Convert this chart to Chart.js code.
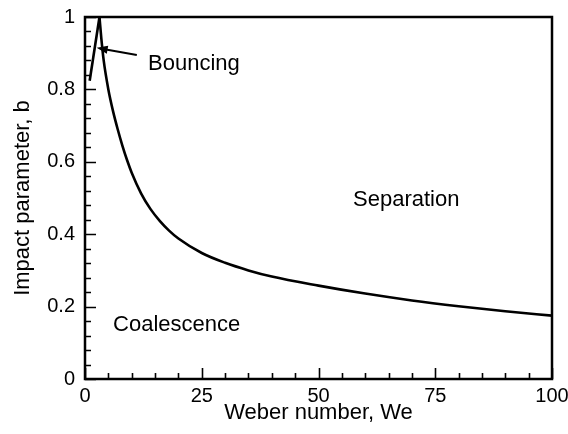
<!DOCTYPE html>
<html>
<head>
<meta charset="utf-8">
<script src="https://cdn.jsdelivr.net/npm/chart.js@4.4.0/dist/chart.umd.min.js"></script>
<style>
  html, body { margin: 0; padding: 0; background: #fff; }
  #wrap { width: 568px; height: 434px; position: relative; }
</style>
</head>
<body>
<div id="wrap"><canvas id="chart"></canvas></div>
<script>
// Boundary curve: short rise, then the long fall
const riseWe = [1.0, 3.1];
const riseB  = [0.824, 1.0];
const fallWe = [3.1, 3.5, 4, 5, 6, 7, 8, 9, 10, 12, 14, 16, 18, 20, 25, 30, 35, 40, 50, 60, 70, 80, 90, 100];
const fallB  = [1.0, 0.94, 0.88, 0.80, 0.74, 0.69, 0.645, 0.605, 0.57, 0.513, 0.47, 0.437, 0.41, 0.388, 0.348, 0.321, 0.30, 0.283, 0.258, 0.236, 0.217, 0.201, 0.187, 0.175];

const xTicks = [0, 25, 50, 75, 100];
const yTicks = [0, 0.2, 0.4, 0.6, 0.8, 1];
const xMinorStep = 5;
const yMinorStep = 0.04;

const regionNames = ['Bouncing', 'Separation', 'Coalescence'];
const regionAt = [[13.5, 0.87], [57.4, 0.494], [6.0, 0.149]];
const arrowFrom = [11.1, 0.895];
const arrowTo = [2.5, 0.915];

const FONT = "'Liberation Sans', Arial, sans-serif";

const axisPlugin = {
  id: 'axisFrame',
  afterDatasetsDraw(chart) {
    const { ctx, chartArea: a, scales: { x, y } } = chart;
    ctx.save();
    ctx.strokeStyle = '#000';
    ctx.lineWidth = 1.6;
    ctx.beginPath();
    for (let i = 0; i * xMinorStep <= 100 + 1e-9; i++) {
      const v = i * xMinorStep;
      const px = Math.round(x.getPixelForValue(v)) + 0.5;
      const len = xTicks.includes(v) ? 11 : 6;
      ctx.moveTo(px, a.bottom);
      ctx.lineTo(px, a.bottom - len);
    }
    for (let i = 0; i * yMinorStep <= 1 + 1e-9; i++) {
      const v = +(i * yMinorStep).toFixed(2);
      const py = Math.round(y.getPixelForValue(v)) + 0.5;
      const len = yTicks.some(t => Math.abs(t - v) < 1e-6) ? 11 : 6;
      ctx.moveTo(a.left, py);
      ctx.lineTo(a.left + len, py);
    }
    ctx.stroke();

    ctx.lineWidth = 2.5;
    ctx.strokeRect(a.left, a.top, a.right - a.left, a.bottom - a.top);

    // region labels
    ctx.fillStyle = '#000';
    ctx.font = '22px ' + FONT;
    ctx.textAlign = 'left';
    ctx.textBaseline = 'middle';
    regionNames.forEach((name, i) => {
      ctx.fillText(name, x.getPixelForValue(regionAt[i][0]), y.getPixelForValue(regionAt[i][1]));
    });

    // arrow to the bouncing region
    const x0 = x.getPixelForValue(arrowFrom[0]), y0 = y.getPixelForValue(arrowFrom[1]);
    const x1 = x.getPixelForValue(arrowTo[0]), y1 = y.getPixelForValue(arrowTo[1]);
    const ang = Math.atan2(y1 - y0, x1 - x0);
    ctx.lineWidth = 2;
    ctx.beginPath();
    ctx.moveTo(x0, y0);
    ctx.lineTo(x1 - 8 * Math.cos(ang), y1 - 8 * Math.sin(ang));
    ctx.stroke();
    ctx.beginPath();
    ctx.moveTo(x1, y1);
    ctx.lineTo(x1 - 11 * Math.cos(ang) + 4 * Math.sin(ang), y1 - 11 * Math.sin(ang) - 4 * Math.cos(ang));
    ctx.lineTo(x1 - 11 * Math.cos(ang) - 4 * Math.sin(ang), y1 - 11 * Math.sin(ang) + 4 * Math.cos(ang));
    ctx.closePath();
    ctx.fill();
    ctx.restore();
  }
};

const curveStyle = { borderColor: '#000', borderWidth: 2.6, pointRadius: 0, fill: false };

new Chart(document.getElementById('chart'), {
  type: 'line',
  plugins: [axisPlugin],
  data: {
    datasets: [
      { ...curveStyle, tension: 0, data: riseWe.map((w, i) => ({ x: w, y: riseB[i] })) },
      { ...curveStyle, cubicInterpolationMode: 'monotone', data: fallWe.map((w, i) => ({ x: w, y: fallB[i] })) }
    ]
  },
  options: {
    responsive: true,
    maintainAspectRatio: false,
    animation: false,
    layout: { padding: { top: 17, right: 16, left: 0, bottom: 0 } },
    plugins: { legend: { display: false }, tooltip: { enabled: false } },
    scales: {
      x: {
        type: 'linear', min: 0, max: 100,
        afterBuildTicks: s => { s.ticks = xTicks.map(v => ({ value: v })); },
        afterFit: s => { s.height = 55; s.paddingLeft = 0; s.paddingRight = 0; },
        grid: { display: false, drawTicks: false },
        border: { display: false },
        ticks: { color: '#000', font: { family: FONT, size: 20 }, padding: 5, maxRotation: 0, callback: v => String(v) },
        title: { display: true, text: 'Weber number, We', color: '#000', font: { family: FONT, size: 22 }, padding: { top: 0, bottom: 8 } }
      },
      y: {
        type: 'linear', min: 0, max: 1,
        afterBuildTicks: s => { s.ticks = yTicks.map(v => ({ value: v })); },
        afterFit: s => { s.width = 85; s.paddingTop = 0; s.paddingBottom = 0; },
        grid: { display: false, drawTicks: false },
        border: { display: false },
        ticks: { color: '#000', font: { family: FONT, size: 20 }, padding: 10, callback: v => String(v) },
        title: { display: true, text: 'Impact parameter, b', color: '#000', font: { family: FONT, size: 22 }, padding: { top: 10, bottom: 0 } }
      }
    }
  }
});
</script>
</body>
</html>
